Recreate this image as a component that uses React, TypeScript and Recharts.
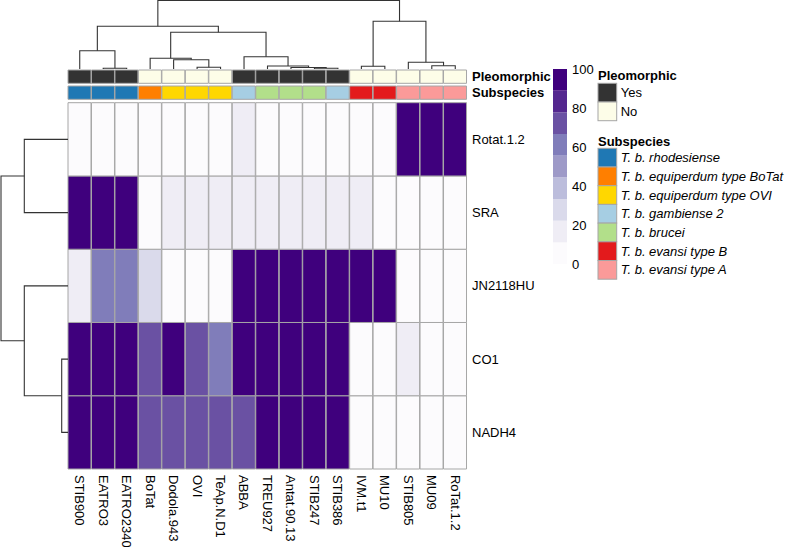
import { BarChart, Bar, Cell, XAxis, YAxis, ScatterChart, Scatter } from "recharts"

const SAMPLES = [
  "STIB900", "EATRO3", "EATRO2340", "BoTat", "Dodola.943", "OVI", "TeAp.N.D1", "ABBA", "TREU927",
  "Antat.90.13", "STIB247", "STIB386", "IVM.t1", "MU10", "STIB805", "MU09", "RoTat.1.2",
]
const GENES = ["Rotat.1.2", "SRA", "JN2118HU", "CO1", "NADH4"]

// one value per sample, same order as SAMPLES
const ROTAT_1_2 = [0, 0, 0, 0, 0, 0, 0, 15, 0, 0, 0, 0, 0, 0, 100, 100, 100]
const SRA = [100, 100, 100, 0, 15, 15, 15, 15, 15, 15, 15, 15, 15, 0, 0, 0, 0]
const JN2118HU = [15, 62, 62, 28, 0, 0, 0, 100, 100, 100, 100, 100, 100, 100, 0, 0, 0]
const CO1 = [100, 100, 100, 72, 100, 72, 62, 100, 100, 100, 100, 100, 0, 0, 15, 0, 0]
const NADH4 = [100, 100, 100, 72, 72, 72, 72, 72, 100, 100, 100, 100, 0, 0, 0, 0, 0]
const GENE_VALUES = [ROTAT_1_2, SRA, JN2118HU, CO1, NADH4]

const PLEOMORPHIC = ["Yes", "Yes", "Yes", "No", "No", "No", "No", "Yes", "Yes", "Yes", "Yes", "Yes", "No", "No", "No", "No", "No"]
const SUBSPECIES = [
  "T. b. rhodesiense", "T. b. rhodesiense", "T. b. rhodesiense",
  "T. b. equiperdum type BoTat",
  "T. b. equiperdum type OVI", "T. b. equiperdum type OVI", "T. b. equiperdum type OVI",
  "T. b. gambiense 2",
  "T. b. brucei", "T. b. brucei", "T. b. brucei",
  "T. b. gambiense 2",
  "T. b. evansi type B", "T. b. evansi type B",
  "T. b. evansi type A", "T. b. evansi type A", "T. b. evansi type A",
]

const PLEO_LEVELS = ["Yes", "No"]
const PLEO_COLORS = ["#333333", "#fdfde8"]
const SUBSPECIES_LEVELS = [
  "T. b. rhodesiense", "T. b. equiperdum type BoTat", "T. b. equiperdum type OVI", "T. b. gambiense 2",
  "T. b. brucei", "T. b. evansi type B", "T. b. evansi type A",
]
const SUBSPECIES_COLORS = ["#1f78b4", "#ff7f00", "#ffd700", "#a6cee3", "#b2df8a", "#e31a1c", "#fb9a99"]

// hclust-style merges: negative = leaf (1-based, display order), positive = earlier merge; last = height
const COL_MERGES: [number, number, number][] = [
  [-2, -3, 0.7], [-1, 1, 18.3], [-6, -7, 1.7], [-5, 3, 9.3], [-4, 4, 10.7],
  [-11, -12, 0.7], [-10, 6, 1.5], [-9, 7, 3], [-8, 8, 12.3], [5, 9, 36.7],
  [2, 10, 42.7], [-13, -14, 2.7], [-16, -17, 3.3], [-15, 13, 6.7], [12, 14, 47.7], [11, 15, 68.5],
]
const ROW_MERGES: [number, number, number][] = [
  [-4, -5, 6.3], [-1, -2, 43.7], [-3, 1, 43.7], [2, 3, 67],
]

const PURPLES = ["#fcfbfd", "#efedf5", "#dadaeb", "#bcbddc", "#9e9ac8", "#807dba", "#6a51a3", "#54278f", "#3f007d"]
const LEGEND_TICKS = [0, 20, 40, 60, 80, 100]

const FONT = "'Liberation Sans', Arial, Helvetica, sans-serif"
const BORDER = "#a6a6a6"
const W = 787
const H = 547
const HM_LEFT = 68
const HM_RIGHT = 467
const HM_TOP = 102.7
const HM_BOTTOM = 469
const LABEL_W = 120

const colorFor = (v: number) => PURPLES[Math.min(PURPLES.length - 1, Math.floor(v / (100 / PURPLES.length)))]

function dendroLinks(merges: [number, number, number][]) {
  const pos: number[] = []
  const hts: number[] = []
  const node = (ref: number) => (ref < 0 ? { p: -ref - 0.5, h: 0 } : { p: pos[ref - 1], h: hts[ref - 1] })
  return merges.map(([a, b, h], i) => {
    const A = node(a)
    const B = node(b)
    pos[i] = (A.p + B.p) / 2
    hts[i] = h
    return [A, { p: A.p, h }, { p: B.p, h }, B]
  })
}

const NoDot = () => <g />

const SampleTick = ({ x, y, payload }: any) => (
  <text x={x} y={y} dy="0.35em" transform={`rotate(90, ${x}, ${y})`} textAnchor="start"
    fontSize={13} fontFamily={FONT} fill="#000">
    {payload.value}
  </text>
)

const abs = { position: "absolute" as const, left: 0, top: 0 }

function Heatmap() {
  const data = SAMPLES.map((s) => {
    const row: Record<string, string | number> = { sample: s }
    GENES.forEach((_, g) => (row[`g${g}`] = 1))
    return row
  })
  // bottom of the stack first
  const order = GENES.map((_, g) => g).reverse()
  return (
    <div style={abs}>
      <BarChart width={W} height={H} data={data} barCategoryGap={0} barGap={0}
        margin={{ top: HM_TOP, left: HM_LEFT, right: W - HM_RIGHT - LABEL_W, bottom: H - HM_BOTTOM - 70 }}>
        <XAxis dataKey="sample" interval={0} height={70} axisLine={false} tickLine={false}
          tickSize={4} tickMargin={2} tick={<SampleTick />} />
        <YAxis type="number" orientation="right" width={LABEL_W} domain={[0, GENES.length]}
          ticks={[0.5, 1.5, 2.5, 3.5, 4.5]} tickFormatter={(v: number) => GENES[GENES.length - 1 - Math.floor(v)]}
          axisLine={false} tickLine={false} tickSize={3} tickMargin={2}
          tick={{ fill: "#000", fontSize: 13, fontFamily: FONT }} />
        {order.map((g) => (
          <Bar key={g} dataKey={`g${g}`} stackId="s" stroke={BORDER} strokeWidth={1} isAnimationActive={false}>
            {GENE_VALUES[g].map((v, i) => <Cell key={i} fill={colorFor(v)} />)}
          </Bar>
        ))}
      </BarChart>
    </div>
  )
}

function AnnotationRow({ label, top, bottom, colors }: { label: string; top: number; bottom: number; colors: string[] }) {
  const data = SAMPLES.map((s) => ({ sample: s, v: 1 }))
  return (
    <div style={abs}>
      <BarChart width={W} height={H} data={data} barCategoryGap={0} barGap={0}
        margin={{ top, left: HM_LEFT, right: W - HM_RIGHT - LABEL_W, bottom: H - bottom }}>
        <XAxis dataKey="sample" hide />
        <YAxis type="number" orientation="right" width={LABEL_W} domain={[0, 1]} ticks={[0.5]}
          tickFormatter={() => label} axisLine={false} tickLine={false} tickSize={3} tickMargin={2}
          tick={{ fill: "#000", fontSize: 13, fontWeight: "bold", fontFamily: FONT }} />
        <Bar dataKey="v" stroke={BORDER} strokeWidth={1} isAnimationActive={false}>
          {colors.map((c, i) => <Cell key={i} fill={c} />)}
        </Bar>
      </BarChart>
    </div>
  )
}

function ColDendrogram() {
  const links = dendroLinks(COL_MERGES)
  return (
    <div style={abs}>
      <ScatterChart width={W} height={H} margin={{ top: 0, left: HM_LEFT, right: W - HM_RIGHT, bottom: H - 69 }}>
        <XAxis type="number" dataKey="p" domain={[0, SAMPLES.length]} hide />
        <YAxis type="number" dataKey="h" domain={[0, 69]} hide />
        {links.map((pts, i) => (
          <Scatter key={i} data={pts} line={{ stroke: "#333", strokeWidth: 1.1 }} lineType="joint"
            shape={NoDot} isAnimationActive={false} />
        ))}
      </ScatterChart>
    </div>
  )
}

function RowDendrogram() {
  const links = dendroLinks(ROW_MERGES)
  return (
    <div style={abs}>
      <ScatterChart width={W} height={H} margin={{ top: HM_TOP, left: 0, right: W - HM_LEFT, bottom: H - HM_BOTTOM }}>
        <XAxis type="number" dataKey="h" domain={[0, 68]} reversed hide />
        <YAxis type="number" dataKey="p" domain={[0, GENES.length]} reversed hide />
        {links.map((pts, i) => (
          <Scatter key={i} data={pts} line={{ stroke: "#333", strokeWidth: 1.1 }} lineType="joint"
            shape={NoDot} isAnimationActive={false} />
        ))}
      </ScatterChart>
    </div>
  )
}

function ColorBar() {
  const step = 100 / PURPLES.length
  const row: Record<string, string | number> = { name: "scale" }
  PURPLES.forEach((_, i) => (row[`b${i}`] = step))
  return (
    <div style={abs}>
      <BarChart width={W} height={H} data={[row]} barCategoryGap={0}
        margin={{ top: 69, left: 553, right: W - 567 - 40, bottom: H - 264 }}>
        <XAxis dataKey="name" hide />
        <YAxis type="number" orientation="right" width={40} domain={[0, 100]} ticks={LEGEND_TICKS}
          axisLine={false} tickLine={false} tickSize={3} tickMargin={2}
          tick={{ fill: "#000", fontSize: 13, fontFamily: FONT }} />
        {PURPLES.map((c, i) => (
          <Bar key={i} dataKey={`b${i}`} stackId="c" fill={c} isAnimationActive={false} />
        ))}
      </BarChart>
    </div>
  )
}

function Legends() {
  const box = 18.7
  const x0 = 598
  const item = (label: string, color: string, y: number, italic: boolean) => (
    <g key={label}>
      <rect x={x0} y={y} width={box} height={box} fill={color} stroke={BORDER} strokeWidth={1} />
      <text x={x0 + box + 4} y={y + box / 2} dy="0.35em" fontSize={13} fontFamily={FONT}
        fontStyle={italic ? "italic" : "normal"} fill="#000">{label}</text>
    </g>
  )
  return (
    <svg width={W} height={H} style={abs}>
      <text x={x0} y={75} dy="0.35em" fontSize={13} fontWeight="bold" fontFamily={FONT}>Pleomorphic</text>
      {PLEO_LEVELS.map((l, i) => item(l, PLEO_COLORS[i], 83.3 + i * box, false))}
      <text x={x0} y={141.5} dy="0.35em" fontSize={13} fontWeight="bold" fontFamily={FONT}>Subspecies</text>
      {SUBSPECIES_LEVELS.map((l, i) => item(l, SUBSPECIES_COLORS[i], 148.3 + i * box, true))}
    </svg>
  )
}

export default function App() {
  const pleoColors = PLEOMORPHIC.map((p) => PLEO_COLORS[PLEO_LEVELS.indexOf(p)])
  const subColors = SUBSPECIES.map((s) => SUBSPECIES_COLORS[SUBSPECIES_LEVELS.indexOf(s)])
  return (
    <div style={{ position: "absolute", left: 0, top: 0, width: W, height: H, background: "#fff", fontFamily: FONT }}>
      <Heatmap />
      <AnnotationRow label="Pleomorphic" top={70} bottom={83.3} colors={pleoColors} />
      <AnnotationRow label="Subspecies" top={86} bottom={99.3} colors={subColors} />
      <ColDendrogram />
      <RowDendrogram />
      <ColorBar />
      <Legends />
    </div>
  )
}
